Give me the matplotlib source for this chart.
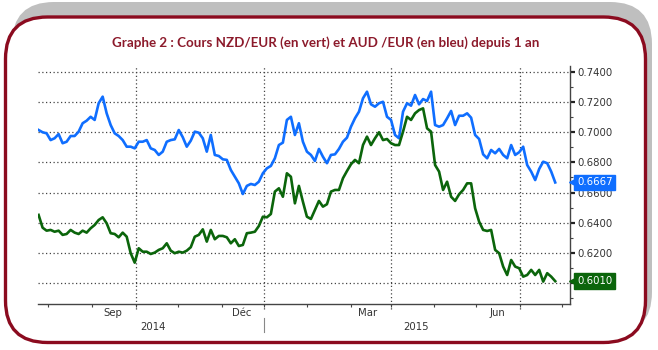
import numpy as np
import pandas as pd
import matplotlib
matplotlib.use('Agg')
import matplotlib.pyplot as plt
import matplotlib.dates as mdates
from matplotlib.patches import FancyBboxPatch
from matplotlib.transforms import IdentityTransform, blended_transform_factory

# cours AUD/EUR (bleu) et NZD/EUR (vert), juin 2014 -> juin 2015
aud_eur = [
    0.7016, 0.7001, 0.6994, 0.6949, 0.6961, 0.6989, 0.6928, 0.6938, 0.6976, 0.6976,
    0.7005, 0.7061, 0.7078, 0.7104, 0.7083, 0.7194, 0.7238, 0.7127, 0.7049, 0.6994,
    0.6976, 0.6949, 0.6905, 0.6905, 0.6894, 0.6938, 0.6938, 0.6949, 0.6894, 0.6883,
    0.6850, 0.6872, 0.6938,
    0.6949, 0.6954, 0.7016, 0.6968, 0.6905, 0.6945, 0.7005, 0.6998, 0.6961, 0.6872,
    0.6983, 0.6850, 0.6843, 0.6821, 0.6817, 0.6750, 0.6705, 0.6661, 0.6590, 0.6644,
    0.6657, 0.6650, 0.6672, 0.6728, 0.6761, 0.6777, 0.6828, 0.6916, 0.6932, 0.7083,
    0.7104, 0.6983, 0.7061,
    0.6938, 0.6872, 0.6850, 0.6810, 0.6890, 0.6838, 0.6795, 0.6850, 0.6854, 0.6890,
    0.6938, 0.6965, 0.7038, 0.7094, 0.7138, 0.7227, 0.7271, 0.7187, 0.7171, 0.7194,
    0.7204, 0.7104, 0.7083, 0.6983, 0.6961, 0.7138, 0.7194, 0.7178, 0.7249, 0.7187,
    0.7222, 0.7209,
    0.7271, 0.7049, 0.7038, 0.7049, 0.7094, 0.7143, 0.7049, 0.7111, 0.7111, 0.7127,
    0.7098, 0.6983, 0.6956, 0.6854, 0.6828, 0.6883, 0.6861, 0.6890, 0.6850, 0.6828,
    0.6916, 0.6850, 0.6868, 0.6905, 0.6783, 0.6739, 0.6683, 0.6757, 0.6805, 0.6795,
    0.6739, 0.6667,
]
nzd_eur = [
    0.6451, 0.6366, 0.6346, 0.6351, 0.6339, 0.6346, 0.6318, 0.6324, 0.6351, 0.6333,
    0.6324, 0.6346, 0.6333, 0.6362, 0.6384, 0.6417, 0.6435, 0.6395, 0.6329, 0.6324,
    0.6302, 0.6333, 0.6306, 0.6196, 0.6133, 0.6229, 0.6206, 0.6206, 0.6191, 0.6200,
    0.6218, 0.6229, 0.6262,
    0.6213, 0.6196, 0.6206, 0.6200, 0.6213, 0.6236, 0.6306, 0.6318, 0.6355, 0.6273,
    0.6351, 0.6289, 0.6311, 0.6311, 0.6302, 0.6262, 0.6289, 0.6244, 0.6251, 0.6329,
    0.6333, 0.6339, 0.6377, 0.6439, 0.6435, 0.6457, 0.6606, 0.6628, 0.6572, 0.6728,
    0.6705, 0.6528, 0.6644,
    0.6539, 0.6439, 0.6424, 0.6484, 0.6544, 0.6506, 0.6522, 0.6606, 0.6617, 0.6617,
    0.6695, 0.6743, 0.6788, 0.6817, 0.6795, 0.6916, 0.6972, 0.6916, 0.6961, 0.7001,
    0.6949, 0.6956, 0.6928, 0.6916, 0.6916, 0.7005, 0.7104, 0.7083, 0.7127, 0.7149,
    0.7160, 0.7027,
    0.7005, 0.6783, 0.6739, 0.6617, 0.6672, 0.6572, 0.6544, 0.6588, 0.6617, 0.6661,
    0.6661, 0.6495, 0.6406, 0.6351, 0.6344, 0.6351, 0.6218, 0.6196, 0.6107, 0.6051,
    0.6151, 0.6107, 0.6096, 0.6040, 0.6051, 0.6085, 0.6051, 0.6085, 0.6007, 0.6063,
    0.6040, 0.6010,
]
dates = pd.date_range('2014-06-24', '2015-06-26', periods=len(aud_eur))

month_labels = ['Sep', 'Déc', 'Mar', 'Jun']
month_label_dates = pd.to_datetime(['2014-08-16', '2014-11-15', '2015-02-13', '2015-05-16'])
grid_dates = pd.to_datetime(['2014-09-01', '2014-12-01', '2015-03-01', '2015-06-01'])
year_labels = ['2014', '2015']
year_label_dates = pd.to_datetime(['2014-09-13', '2015-03-19'])
year_sep_date = pd.Timestamp('2014-12-01')

title = 'Graphe 2 : Cours NZD/EUR (en vert) et AUD /EUR (en bleu) depuis 1 an'
blue = '#0F6EFF'
green = '#0B650B'
red = '#8B0B1F'

fig = plt.figure(figsize=(6.58, 3.5), dpi=100)
fig.patch.set_facecolor('white')

# cadre arrondi + ombre grise (en pixels)
shadow = FancyBboxPatch((12, 16), 640, 332, boxstyle='round,pad=0,rounding_size=42',
                        transform=IdentityTransform(), fc='#BFBFBF', ec='none', zorder=-3)
frame = FancyBboxPatch((5.5, 7.5), 640, 325.5, boxstyle='round,pad=0,rounding_size=42',
                       transform=IdentityTransform(), fc='white', ec=red, lw=2.4, zorder=-2)
fig.add_artist(shadow)
fig.add_artist(frame)

fig.text(326 / 658, 1 - 43 / 350, title, ha='center', va='center', color='#8C1A2B',
         fontsize=9.6, fontweight='bold', family='Lato')

ax = fig.add_axes([38 / 658, 46 / 350, 532 / 658, 238 / 350])
ax.set_facecolor('none')

ax.plot(dates, aud_eur, color=blue, lw=1.9, solid_joinstyle='round')
ax.plot(dates, nzd_eur, color=green, lw=1.9, solid_joinstyle='round')

ax.set_xlim(pd.Timestamp('2014-06-23 14:00'), pd.Timestamp('2015-07-06 12:00'))
ax.set_ylim(0.5858, 0.7442)

for s in ['left', 'top']:
    ax.spines[s].set_visible(False)
for s in ['right', 'bottom']:
    ax.spines[s].set_color('#444444')
    ax.spines[s].set_linewidth(1.0)

# axe Y a droite (0.6000 est cache par l'etiquette verte)
ax.yaxis.tick_right()
yt = np.arange(0.60, 0.7401, 0.02)
ax.set_yticks(yt)
ax.set_yticklabels(['' if abs(t - 0.60) < 1e-6 else f'{t:.4f}' for t in yt])
ax.set_yticks(np.arange(0.59, 0.7401, 0.01), minor=True)
ax.tick_params(axis='y', which='major', direction='out', length=3.5, width=1.6,
               color='#222222', labelsize=7.3, labelcolor='#333333', pad=2)
ax.tick_params(axis='y', which='minor', direction='out', length=2.5, width=0.8, color='#444444')
for t in yt:
    ax.axhline(t, color='#444444', lw=0.9, ls=(0, (1, 2)), zorder=0.5)

# axe X : petits traits au debut de chaque mois
ax.xaxis.set_major_locator(mdates.MonthLocator())
ax.xaxis.set_major_formatter(plt.NullFormatter())
ax.tick_params(axis='x', which='major', direction='out', length=2.5, width=0.8, color='#444444')

tr = blended_transform_factory(ax.transData, ax.transAxes)
for d in grid_dates:
    ax.plot([d, d], [-0.02, 1], transform=tr, color='#444444', lw=0.9, ls=(0, (1, 2)),
            clip_on=False, zorder=0.5)
for lab, d in zip(month_labels, month_label_dates):
    ax.text(d, -0.038, lab, transform=tr, ha='center', va='center', fontsize=7.3, color='#333333')
for lab, d in zip(year_labels, year_label_dates):
    ax.text(d, -0.097, lab, transform=tr, ha='center', va='center', fontsize=7.3, color='#333333')
ax.plot([year_sep_date, year_sep_date], [-0.059, -0.118], transform=tr, color='#888888',
        lw=0.8, clip_on=False)

# etiquettes des derniers cours
trv = blended_transform_factory(ax.transAxes, ax.transData)
for series, col in [(aud_eur, blue), (nzd_eur, green)]:
    last = series[-1]
    ax.plot([1.006], [last], marker='<', ms=6, color=col, transform=trv, clip_on=False, zorder=5)
    ax.annotate(f'{last:.4f}', xy=(1, last), xycoords=trv, xytext=(5, 0),
                textcoords='offset points', ha='left', va='center', color='white',
                fontsize=7.3, annotation_clip=False, zorder=6,
                bbox=dict(boxstyle='square,pad=0.28', fc=col, ec=col))

fig.savefig('out.png', dpi=100)
